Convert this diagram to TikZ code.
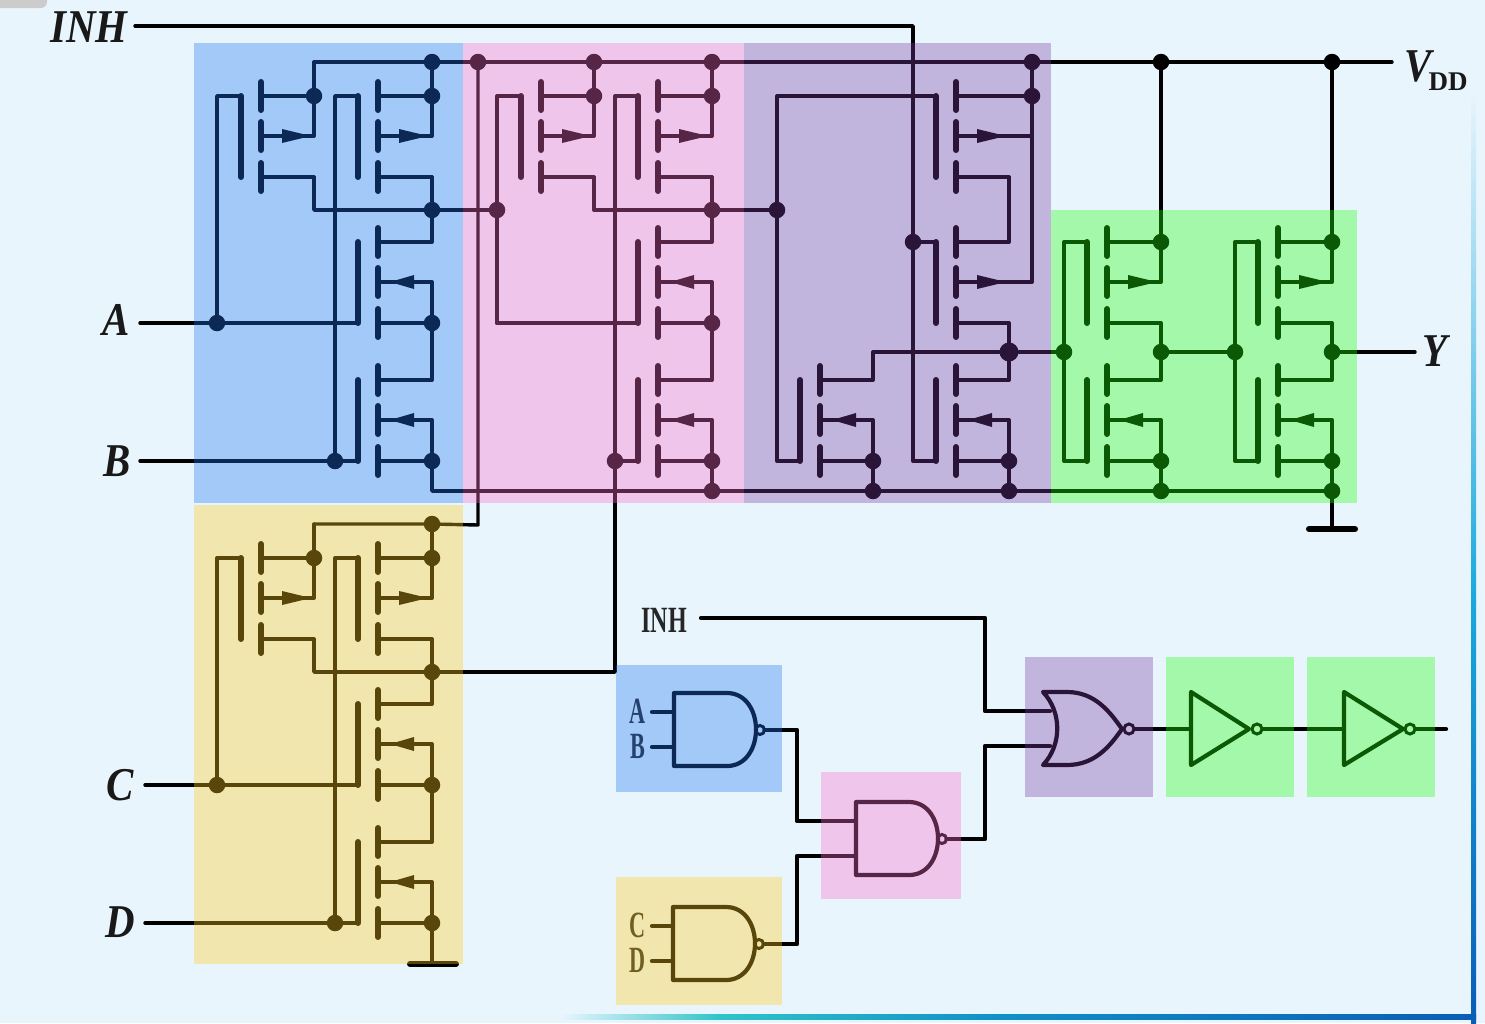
\documentclass[tikz,border=0pt]{standalone}
\usepackage{fontspec}
\setmainfont{Liberation Serif}
\definecolor{bgc}{RGB}{233,245,253}
\definecolor{ovblue}{RGB}{34,120,243}
\definecolor{ovpink}{RGB}{251,109,206}
\definecolor{ovpurple}{RGB}{123,63,163}
\definecolor{ovgreen}{RGB}{34,255,14}
\definecolor{ovyellow}{RGB}{255,203,29}
\definecolor{frpale}{RGB}{200,232,246}
\definecolor{frteal}{RGB}{47,196,200}
\definecolor{frmid}{RGB}{16,144,200}
\definecolor{frblue}{RGB}{11,93,181}
\definecolor{frcyan}{RGB}{26,168,220}
\tikzset{
  wire/.style={line width=3.4pt,line join=round,line cap=round,black},
  hwire/.style={line width=4.2pt,line join=round,line cap=round,black},
  chan/.style={line width=6pt,line cap=round,black},
  gbar/.style={line width=6pt,line cap=round,black},
  arrowtri/.style={fill=black,draw=none},
  jdot/.style={circle,fill=black,inner sep=0pt,minimum size=16.5pt},
  bubble/.style={circle,draw=black,line width=3pt,inner sep=0pt,minimum size=9pt},
  lab/.style={font=\fontsize{47}{47}\selectfont\bfseries\itshape,inner sep=0pt,text=black!90},
  slab/.style={font=\fontsize{37}{37}\selectfont\bfseries,inner sep=0pt,text=black!85},
  ovl/.style={draw=none,fill opacity=.35},
}
% name, P/N, cx, top, x of source stub, x of bulk stub, x of drain stub
\newcommand{\mosfet}[7]{%
  \coordinate (#1-s) at (#3,#4);
  \coordinate (#1-b) at (#3,#4+40);
  \coordinate (#1-d) at (#3,#4+81);
  \coordinate (#1-sr) at (#5,#4);
  \coordinate (#1-br) at (#6,#4+40);
  \coordinate (#1-dr) at (#7,#4+81);
  \coordinate (#1-g) at (#3-20,#4);
  \coordinate (#1-h) at (#3-20,#4+81);
  \draw[chan] (#3,#4-14) -- (#3,#4+14);
  \draw[chan] (#3,#4+26) -- (#3,#4+54);
  \draw[chan] (#3,#4+67) -- (#3,#4+95);
  \draw[wire] (#1-s) -- (#1-sr);
  \draw[wire] (#1-b) -- (#1-br);
  \draw[wire] (#1-d) -- (#1-dr);
  \draw[gbar] (#1-g) -- (#1-h);
  \if#2P
    \fill[arrowtri] (#3+21,#4+33) -- (#3+50,#4+40) -- (#3+21,#4+47) -- cycle;
  \else
    \fill[arrowtri] (#3+36,#4+33) -- (#3+12,#4+40) -- (#3+36,#4+47) -- cycle;
  \fi
}
\newcommand{\dotat}[3]{\node[jdot] (#1) at (#2,#3) {};}
\newcommand{\cellfour}[3]{%
  \begin{scope}[shift={(#2,#3)}]
    \mosfet{#1a}{P}{261}{96}{314}{314}{314}
    \mosfet{#1b}{P}{378}{96}{432}{432}{432}
    \mosfet{#1c}{N}{378}{242}{432}{432}{432}
    \mosfet{#1e}{N}{378}{380}{432}{432}{432}
    \coordinate (#1t1) at (314,62);
    \coordinate (#1rr) at (217,323);
    \dotat{#1t2}{432}{62}
    \dotat{#1s2}{432}{96}
    \dotat{#1s1}{314}{96}
    \dotat{#1m}{432}{210}
    \dotat{#1o}{432}{323}
    \dotat{#1p}{335}{461}
    \dotat{#1q}{432}{461}
    \draw[wire] (#1t1) -- (#1s1) -- (#1a-br);
    \draw[wire] (#1t2) -- (#1s2) -- (#1b-br);
    \draw[wire] (#1a-dr) |- (#1m);
    \draw[wire] (#1b-dr) -- (#1m) -- (#1c-sr);
    \draw[wire] (#1c-br) -- (#1o) -- (#1e-sr);
    \draw[wire] (#1e-br) -- (#1q);
    \draw[wire] (#1a-g) -| (#1rr) -- (#1c-h);
    \draw[wire] (#1b-g) -| (#1p) -- (#1e-h);
  \end{scope}
}
\newcommand{\nandgate}[3]{%
  \begin{scope}[shift={(#2,#3)}]
    \coordinate (#1-i1) at (0,19);
    \coordinate (#1-i2) at (0,54);
    \coordinate (#1-o) at (90.5,37);
    \draw[hwire] (0,0) -- (53,0) .. controls (72,0) and (82,18) .. (82,36.5)
      .. controls (82,55) and (72,73) .. (53,73) -- (0,73) -- cycle;
    \node[bubble] (#1-bub) at (86,37) {};
  \end{scope}
}
\begin{document}
\begin{tikzpicture}[x=1pt,y=-1pt]
\useasboundingbox (0,0) rectangle (1485,1023);
\fill[bgc] (0,0) rectangle (1485,1023);
\fill[gray!40,rounded corners=6pt] (-8,-12) rectangle (47,8);
% frame
\shade[top color=bgc,bottom color=frcyan] (1471,90) rectangle (1476,600);
\shade[top color=frcyan,bottom color=frblue] (1471,600) rectangle (1476,1023);
\shade[left color=bgc,right color=frteal] (560,1014) rectangle (720,1019);
\shade[left color=frteal,right color=frmid] (720,1014) rectangle (1000,1019);
\shade[left color=frmid,right color=frblue] (1000,1014) rectangle (1476,1019);

% ---- CMOS cells ----
\cellfour{A}{0}{0}
\cellfour{P}{280}{0}
\cellfour{Y}{0}{462}
\node[jdot] (Adot) at (Arr) {};
\node[jdot] (Ydot) at (Yrr) {};
\dotat{Pin}{497}{210}
\node[jdot] (Ptop) at (Pt1) {};
\dotat{vin}{478}{62}
\draw[wire] (Pin) -- (Prr) -- (Pc-h);

% purple cell
\mosfet{Ua}{P}{956}{96}{1032}{1032}{1009}
\mosfet{Ub}{P}{956}{242}{1009}{1032}{1009}
\mosfet{Uc}{N}{820}{380}{873}{873}{873}
\mosfet{Ue}{N}{956}{380}{1009}{1009}{1009}
\dotat{Ut}{1032}{62}
\dotat{Us}{1032}{96}
\dotat{Uin}{777}{210}
\dotat{Uinh}{913}{242}
\node[jdot,minimum size=19pt] (Uo) at (1009,352) {};
\dotat{Uq1}{873}{461}
\dotat{Uq2}{1009}{461}
\dotat{Ug1}{873}{491}
\dotat{Ug2}{1009}{491}
\coordinate (Urt) at (777,96);
\coordinate (Urb) at (777,461);
\coordinate (Ucorner) at (873,352);
\draw[wire] (Ut) -- (Us) -- (Ub-br);
\draw[wire] (Ua-dr) -- (Ub-sr);
\draw[wire] (Ub-dr) -- (Uo) -- (Ue-sr);
\draw[wire,line width=4pt] (Ua-g) -- (Urt) -- (Uin);
\draw[wire] (Uin) -- (Urb) -- (Uc-h);
\draw[wire] (Uc-sr) -- (Ucorner) -- (Uo);
\draw[wire] (Uc-br) -- (Uq1) -- (Ug1);
\draw[wire] (Ue-br) -- (Uq2) -- (Ug2);
\draw[wire] (Uinh) -- (Ub-g);
\coordinate (Uib) at (913,461);
\draw[wire] (Uinh) -- (Uib) -- (Ue-h);

% green cell
\foreach \n/\dx in {G/0,H/171}{
\begin{scope}[shift={(\dx,0)}]
  \mosfet{\n a}{P}{1107}{242}{1161}{1161}{1161}
  \mosfet{\n b}{N}{1107}{380}{1161}{1161}{1161}
  \node[jdot] (\n t) at (1161,242) {};
  \node[jdot] (\n o) at (1161,352) {};
  \node[jdot] (\n i) at (1064,352) {};
  \node[jdot] (\n q) at (1161,461) {};
  \node[jdot] (\n g) at (1161,491) {};
  \node[jdot] (\n v) at (1161,62) {};
  \coordinate (\n rt) at (1064,242);
  \coordinate (\n rb) at (1064,461);
  \draw[wire] (\n v) -- (\n t) -- (\n a-br);
  \draw[wire] (\n a-dr) -- (\n o) -- (\n b-sr);
  \draw[wire] (\n b-br) -- (\n q) -- (\n g);
  \draw[wire] (\n a-g) -- (\n rt) -- (\n i) -- (\n rb) -- (\n b-h);
\end{scope}
}

% ---- labels of the top circuit ----
\node[lab] (lInh) at (89,27) {\scalebox{.87}[1]{INH}};
\node[lab] (lA) at (116,320) {\scalebox{.87}[1]{A}};
\node[lab] (lB) at (117,461) {\scalebox{.87}[1]{B}};
\node[lab] (lC) at (120,785) {\scalebox{.87}[1]{C}};
\node[lab] (lD) at (120,922) {\scalebox{.87}[1]{D}};
\node[lab] (lY) at (1435,351) {\scalebox{.87}[1]{Y}};
\node[lab] (lV) at (1418,66) {\scalebox{.87}[1]{V}};
\node[font=\fontsize{27}{27}\selectfont\bfseries,inner sep=0pt,text=black!90] (lDD) at (1448,82) {DD};

% ---- long wires ----
\coordinate (vddEnd) at (1392,62);
\coordinate (inhS) at (135,26);
\coordinate (inhC) at (913,26);
\coordinate (aS) at (140,323);
\coordinate (bS) at (140,461);
\coordinate (cS) at (145,785);
\coordinate (dS) at (145,923);
\coordinate (yEnd) at (1415,352);
\draw[wire] (At1) -- (At2) -- (vin) -- (Ptop) -- (Pt2) -- (Ut) -- (Gv) -- (Hv) -- (vddEnd);
\draw[wire] (inhS) -- (inhC) -- (Uinh);
\draw[wire] (aS) -- (Adot);
\draw[wire] (bS) -- (Ap);
\draw[wire] (cS) -- (Ydot);
\draw[wire] (dS) -- (Yp);
\draw[wire] (Am) -- (Pin);
\draw[wire] (Pm) -- (Uin);
\draw[wire] (Uo) -- (Gi);
\draw[wire] (Go) -- (Hi);
\draw[wire] (Ho) -- (yEnd);
\coordinate (Aq2) at (432,491);
\draw[wire] (Aq) -- (Aq2) -- (Hg);
\dotat{Pg}{712}{491}
\draw[wire] (Pq) -- (Pg);
\coordinate (Yv) at (478,525);
\draw[wire] (Yt1) -- (Yt2) -- (Yv) -- (vin);
\coordinate (Yout) at (615,672);
\draw[wire] (Ym) -- (Yout) -- (Pp);
% grounds
\coordinate (gndA) at (1332,529);
\coordinate (gndAl) at (1309,529);
\coordinate (gndAr) at (1355,529);
\draw[wire] (Hg) -- (gndA);
\draw[line width=6pt,line cap=round] (gndAl) -- (gndAr);
\coordinate (gndB) at (432,964);
\coordinate (gndBl) at (410,964);
\coordinate (gndBr) at (456,964);
\draw[wire] (Yq) -- (gndB);
\draw[line width=6pt,line cap=round] (gndBl) -- (gndBr);

% ---- logic diagram ----
\nandgate{nA}{674}{693}
\nandgate{nP}{856}{802}
\nandgate{nY}{673}{907}
\coordinate (orI1) at (1050,711);
\coordinate (orI2) at (1050,746);
\draw[hwire] (1043,692) -- (1067,692) .. controls (1095,692) and (1110,712) .. (1122,729)
   .. controls (1110,746) and (1095,765) .. (1067,765) -- (1043,765)
   .. controls (1062,745) and (1062,712) .. cycle;
\node[bubble,minimum size=10pt] (orB) at (1129,729) {};
\draw[hwire] (1191,692) -- (1249,729) -- (1191,765) -- cycle;
\node[bubble,minimum size=10pt] (inv1B) at (1257,729) {};
\draw[hwire] (1344,692) -- (1403,729) -- (1344,765) -- cycle;
\node[bubble,minimum size=10pt] (inv2B) at (1410,729) {};
\coordinate (inv1I) at (1191,729);
\coordinate (inv2I) at (1344,729);
\coordinate (outEnd) at (1446,729);
\draw[hwire] (orB) -- (inv1I);
\draw[hwire] (inv1B) -- (inv2I);
\draw[hwire] (inv2B) -- (outEnd);
\node[slab] (lInh2) at (664,620) {\scalebox{.65}[1]{INH}};
\node[slab] (la) at (638,711) {\scalebox{.6}[1]{A}};
\node[slab] (lb) at (638,746) {\scalebox{.6}[1]{B}};
\node[slab] (lc) at (638,925) {\scalebox{.6}[1]{C}};
\node[slab] (ld) at (638,960) {\scalebox{.6}[1]{D}};
\coordinate (ia) at (652,712);
\coordinate (ib) at (652,747);
\coordinate (ic) at (652,926);
\coordinate (id) at (652,961);
\draw[hwire] (ia) -- (nA-i1);
\draw[hwire] (ib) -- (nA-i2);
\draw[hwire] (ic) -- (nY-i1);
\draw[hwire] (id) -- (nY-i2);
\coordinate (j1) at (797,730);
\coordinate (j2) at (797,944);
\coordinate (j3) at (985,839);
\coordinate (j4) at (985,618);
\coordinate (inhLow) at (701,618);
\draw[hwire] (nA-o) -- (j1) |- (nP-i1);
\draw[hwire] (nY-o) -- (j2) |- (nP-i2);
\draw[hwire] (nP-o) -- (j3) |- (orI2);
\draw[hwire] (inhLow) -- (j4) |- (orI1);

% ---- colour overlays ----
\fill[ovblue,ovl] (194,43) rectangle (463,503);
\fill[ovyellow,ovl] (194,505) rectangle (463,964);
\fill[ovpink,ovl] (463,43) rectangle (744,503);
\fill[ovpurple,ovl] (744,43) rectangle (1051,503);
\fill[ovgreen,ovl] (1051,210) rectangle (1357,503);
\fill[ovblue,ovl] (616,665) rectangle (782,792);
\fill[ovyellow,ovl] (616,877) rectangle (782,1005);
\fill[ovpink,ovl] (821,772) rectangle (961,899);
\fill[ovpurple,ovl] (1025,657) rectangle (1153,797);
\fill[ovgreen,ovl] (1166,657) rectangle (1294,797);
\fill[ovgreen,ovl] (1307,657) rectangle (1435,797);
\end{tikzpicture}
\end{document}
